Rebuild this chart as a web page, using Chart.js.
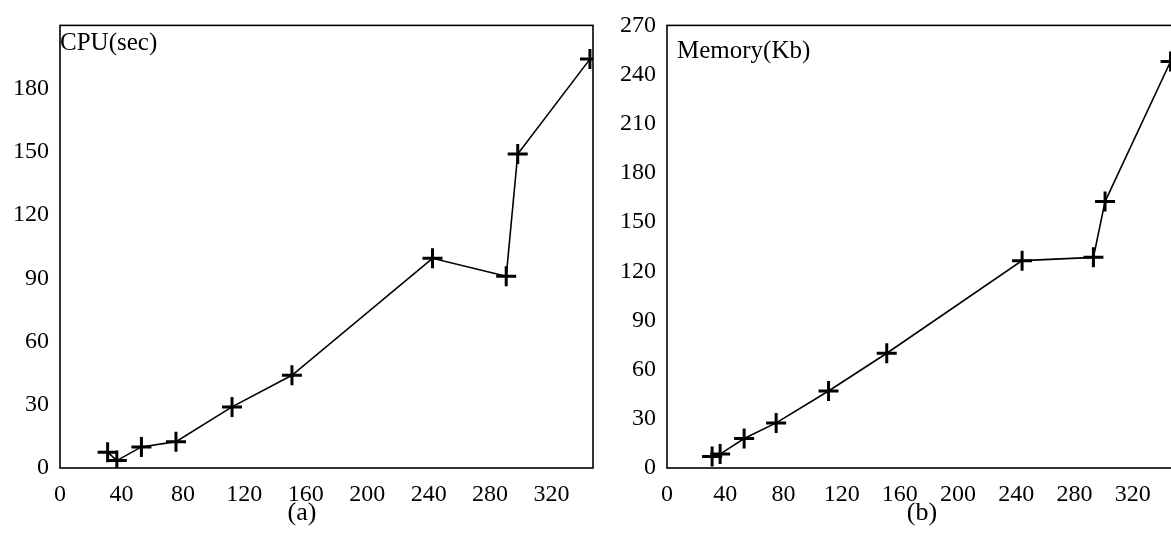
<!DOCTYPE html>
<html>
<head>
<meta charset="utf-8">
<script src="https://cdn.jsdelivr.net/npm/chart.js@4"></script>
<style>
  html, body { margin: 0; padding: 0; background: #fff; width: 1171px; height: 536px; overflow: hidden; }
  canvas { position: absolute; top: 0; }
  #cpuChart { left: 0; }
  #memChart { left: 610px; }
</style>
</head>
<body>
<canvas id="cpuChart" width="610" height="536"></canvas>
<canvas id="memChart" width="630" height="536"></canvas>
<script>
// values
const cpuX = [31, 37, 53, 75.5, 112, 151, 242.5, 290.5, 298, 345];
const cpuY = [7.5, 3.5, 10, 12.5, 29, 44, 99.5, 91, 149, 194];
const memX = [31, 36.5, 53, 75, 111, 151, 244, 293, 301, 346];
const memY = [7, 8.5, 18, 27.5, 47, 70, 126.5, 128.5, 162.5, 248];

const serif = '"Liberation Serif", "DejaVu Serif", serif';

// box round the plot, quantity label in the top-left corner, caption below
const frame = {
  id: 'frame',
  afterDraw(chart, args, opts) {
    const a = chart.chartArea;
    const c = chart.ctx;
    c.save();
    c.strokeStyle = '#000';
    c.lineWidth = 1.6;
    c.strokeRect(a.left, a.top, a.right - a.left, a.bottom - a.top);
    c.fillStyle = '#000';
    c.font = '25px ' + serif;
    c.textBaseline = 'alphabetic';
    c.textAlign = 'left';
    c.fillText(opts.label, a.left + opts.dx, a.top + opts.dy);
    c.font = '26px ' + serif;
    c.textAlign = 'center';
    c.textBaseline = 'middle';
    c.fillText(opts.caption, opts.capX, 513);
    c.restore();
  }
};

function makeChart(id, xs, ys, yMax, label, caption, capX, pad, yWidth, labelPos, hideTop) {
  return new Chart(document.getElementById(id), {
    type: 'scatter',
    data: {
      datasets: [{
        data: xs.map((x, i) => ({x: x, y: ys[i]})),
        showLine: true,
        borderColor: '#000',
        borderWidth: 1.6,
        pointStyle: 'cross',
        pointRadius: 10,
        pointBorderWidth: 3,
        pointBorderColor: '#000',
        pointBackgroundColor: '#000'
      }]
    },
    options: {
      responsive: false,
      animation: false,
      layout: { padding: pad },
      plugins: {
        legend: { display: false },
        tooltip: { enabled: false },
        title: { display: false },
        frame: { label: label, dx: labelPos[0], dy: labelPos[1], caption: caption, capX: capX }
      },
      scales: {
        x: {
          type: 'linear',
          min: 0,
          max: 347,
          grid: { display: false, drawTicks: false },
          border: { display: false },
          afterFit: s => { s.height = 33; },
          ticks: {
            stepSize: 40,
            includeBounds: false,
            padding: 12,
            maxRotation: 0,
            color: '#000',
            font: { family: serif, size: 24 }
          }
        },
        y: {
          min: 0,
          max: yMax,
          grid: { display: false, drawTicks: false },
          border: { display: false },
          afterFit: s => { s.width = yWidth; },
          ticks: {
            stepSize: 30,
            padding: 11,
            color: '#000',
            font: { family: serif, size: 24 },
            callback: v => (hideTop && v === yMax) ? '' : v
          }
        }
      }
    },
    plugins: [frame]
  });
}

makeChart('cpuChart', cpuX, cpuY, 210, 'CPU(sec)', '(a)', 302,
  {top: 23, right: 17, bottom: 35, left: 0}, 60, [0, 25], true);
makeChart('memChart', memX, memY, 270, 'Memory(Kb)', '(b)', 312,
  {top: 22, right: 68, bottom: 35, left: 0}, 57, [10, 33], false);
</script>
</body>
</html>
